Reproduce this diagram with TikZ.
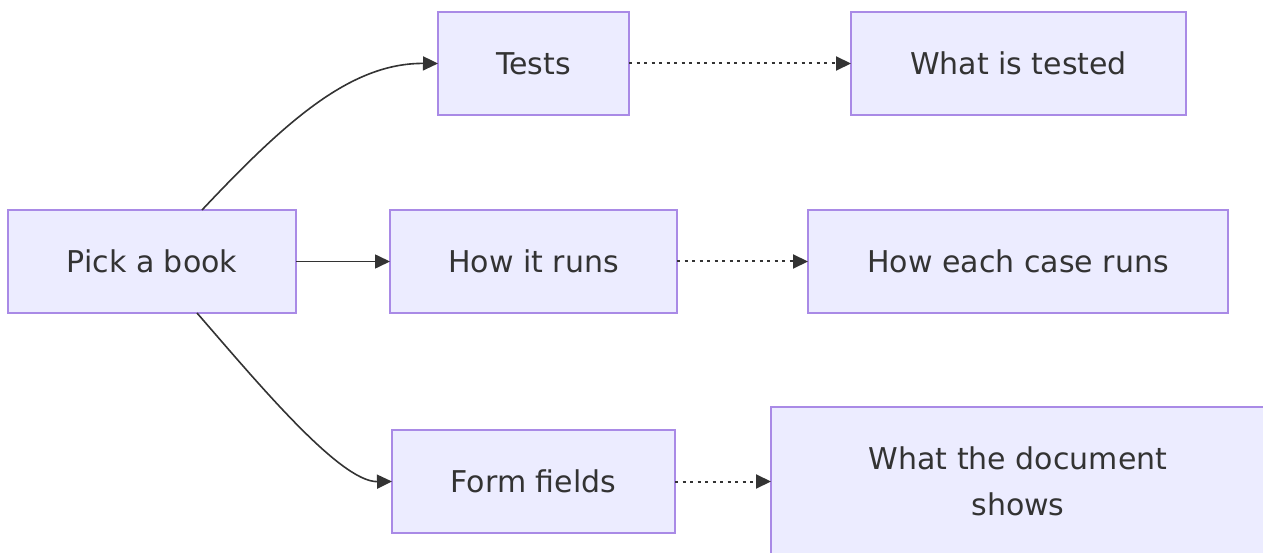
\documentclass[tikz,border=0pt]{standalone}
\usepackage{fontspec}
\setmainfont{DejaVu Sans}
\usetikzlibrary{arrows.meta}
\definecolor{boxfill}{HTML}{ECECFF}
\definecolor{boxline}{HTML}{A98AE6}
\definecolor{ink}{HTML}{333333}
\begin{document}
\begin{tikzpicture}[x=1pt,y=-1pt,
  box/.style={draw=boxline, fill=boxfill, line width=2pt, inner sep=0pt,
    outer sep=0pt, text=ink, font=\fontsize{30}{46}\selectfont, align=center,
    minimum height=103pt},
  link/.style={draw=ink, line width=1.6pt, -{Triangle[length=15pt,width=14pt]}},
  hint/.style={link, line width=2pt, dash pattern=on 3pt off 4.5pt}]
  \useasboundingbox (0,0) rectangle (1263,553);

  % first column
  \node[box, minimum width=288pt] (pick) at (152,261.5) {Pick a book};

  % second column
  \node[box, minimum width=191pt] (tests) at (533.5,63.5) {Tests};
  \node[box, minimum width=287pt] (runs)  at (533.5,261.5) {How it runs};
  \node[box, minimum width=283pt] (form)  at (533.5,481.5) {Form fields};

  % third column
  \node[box, minimum width=335pt] (tested) at (1018.5,63.5) {What is tested};
  \node[box, minimum width=420pt] (cases)  at (1018,261.5) {How each case runs};
  \node[box, minimum width=494pt, minimum height=149pt] (shows) at (1018,481.5)
    {What the document\\shows};

  % solid links out of the start box
  \draw[link] ([xshift=50pt]pick.north) .. controls (285,122) and (350,63) .. (tests.west);
  \draw[link] (pick.east) -- (runs.west);
  \draw[link] ([xshift=45pt]pick.south) .. controls (257,382) and (340,482) .. (form.west);

  % dotted links to the details
  \draw[hint] (tests.east) -- (tested.west);
  \draw[hint] (runs.east) -- (cases.west);
  \draw[hint] (form.east) -- (shows.west);
\end{tikzpicture}
\end{document}
